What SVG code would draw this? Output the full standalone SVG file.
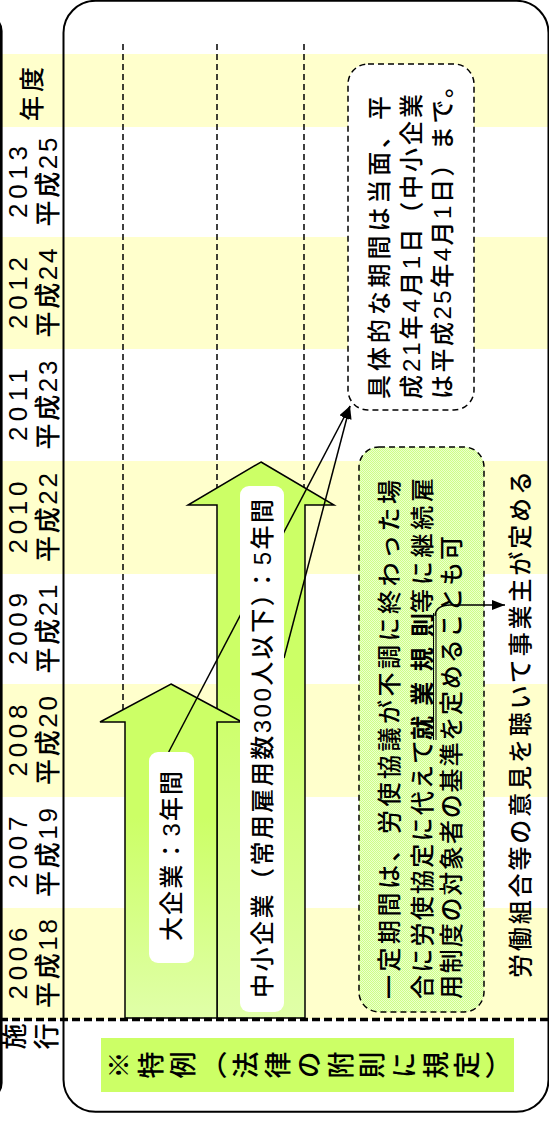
<svg xmlns="http://www.w3.org/2000/svg" width="549" height="1124" viewBox="0 0 549 1124">
<defs>
<linearGradient id="gArrow" x1="0" y1="0" x2="0" y2="1">
<stop offset="0" stop-color="#CCFF66"/>
<stop offset="0.4" stop-color="#CCFF66"/>
<stop offset="1" stop-color="#E0FFA8"/>
</linearGradient>
<pattern id="chk" width="2" height="2" patternUnits="userSpaceOnUse">
<rect width="2" height="2" fill="#EEFFCC"/>
<rect width="1" height="1" fill="#CCFF88"/>
<rect x="1" y="1" width="1" height="1" fill="#CCFF88"/>
</pattern>
<marker id="ah" markerWidth="13" markerHeight="10" refX="13" refY="5" orient="auto" markerUnits="userSpaceOnUse">
<path d="M0,0 L13,5 L0,10 z" fill="#000"/>
</marker>
<style>
text { font-family: "Liberation Sans", "Noto Sans CJK JP", sans-serif; fill: #000; font-weight: 500; }
.yr { font-size: 26px; text-anchor: middle; }
.lbl { font-size: 24px; text-anchor: middle; }
.cl { font-size: 24px; }
.band { fill: #FFFFCC; }
.vdash { stroke: #000; stroke-width: 1.5; stroke-dasharray: 6 4; fill: none; }
.box { stroke: #000; stroke-width: 1.5; stroke-dasharray: 6 4; }
.arrow { fill: url(#gArrow); stroke: #000; stroke-width: 1.5; }
.conn { stroke: #000; stroke-width: 1.5; fill: none; marker-end: url(#ah); }
.lblbox { fill: #fff; }
</style>
</defs>

<g id="bands">
<rect class="band" x="0" y="54" width="549" height="73"/>
<rect class="band" x="0" y="237" width="549" height="112"/>
<rect class="band" x="0" y="461" width="549" height="113"/>
<rect class="band" x="0" y="684" width="549" height="113"/>
<rect class="band" x="0" y="908" width="549" height="111"/>
</g>

<g id="frame">
<rect x="-200" y="16" width="201.3" height="1082" rx="15" fill="none" stroke="#000" stroke-width="2.6"/>
<rect x="63.5" y="0.8" width="485" height="1111" rx="32" fill="none" stroke="#000" stroke-width="2"/>
<line class="vdash" x1="123" y1="44" x2="123" y2="712"/>
<line class="vdash" x1="217" y1="44" x2="217" y2="492"/>
<line class="vdash" x1="304" y1="44" x2="304" y2="492"/>
</g>

<g id="callout-period">
<rect class="box" x="348" y="64" width="126" height="346" rx="20" fill="#fff"/>
<g transform="matrix(0,-1,1,0,0,1124)">
<text class="cl" x="725" y="388" textLength="303" lengthAdjust="spacing">具体的な期間は当面、平</text>
<text class="cl" x="725" y="420" textLength="305" lengthAdjust="spacing">成21年4月1日（中小企業</text>
<text class="cl" x="725" y="450.5" textLength="325" lengthAdjust="spacing">は平成25年4月1日）まで。</text>
</g>
</g>

<g id="callout-rule">
<rect class="box" x="359" y="447" width="125" height="565" rx="20" fill="url(#chk)"/>
<g transform="matrix(0,-1,1,0,0,1124)">
<text class="cl" x="125" y="398" textLength="519" lengthAdjust="spacing">一定期間は、労使協議が不調に終わった場</text>
<text class="cl" x="125" y="430.5"><tspan textLength="259" lengthAdjust="spacing">合に労使協定に代えて</tspan><tspan x="384" font-weight="bold" textLength="127" lengthAdjust="spacing">就業規則</tspan><tspan x="511" textLength="135" lengthAdjust="spacing">等に継続雇</tspan></text>
<text class="cl" x="125" y="460" textLength="463" lengthAdjust="spacing">用制度の対象者の基準を定めることも可</text>
</g>
<path d="M433.5,613 V740 M436,613 V740" stroke="#000" stroke-width="1" fill="none"/>
</g>

<g id="arrow-large">
<polygon class="arrow" points="261,462 334,505 305,505 305,1018 217,1018 217,505 188,505"/>
</g>

<g id="arrow-small">
<polygon class="arrow" points="171,684 242,722 217,722 217,1018 125,1018 125,722 100,722"/>
</g>

<g id="connectors">
<line class="conn" x1="168.7" y1="752" x2="350" y2="406"/>
<line class="conn" x1="284" y1="658" x2="350" y2="406"/>
<path class="conn" d="M435,616 Q436,605 450,605 L505,605"/>
</g>

<g id="label-small">
<rect class="lblbox" x="149" y="752" width="45" height="211" rx="9"/>
<g transform="matrix(0,-1,1,0,0,1124)">
<text class="lbl" x="268" y="179.7" textLength="170" lengthAdjust="spacing">大企業：3年間</text>
</g>
</g>

<g id="label-large">
<rect class="lblbox" x="240" y="486" width="44" height="526" rx="9"/>
<g transform="matrix(0,-1,1,0,0,1124)">
<text class="lbl" x="375.5" y="270.8" textLength="499" lengthAdjust="spacing">中小企業（常用雇用数300人以下）：5年間</text>
</g>
</g>

<g id="employer-note">
<g transform="matrix(0,-1,1,0,0,1124)">
<text class="cl" x="146" y="529" textLength="507" lengthAdjust="spacing">労働組合等の意見を聴いて事業主が定める</text>
</g>
</g>

<g id="year-header">
<g transform="matrix(0,-1,1,0,0,1124)">
<text class="yr" x="1030" y="41" style="font-size:25px" textLength="54" lengthAdjust="spacing">年度</text>
</g>
</g>

<g id="years" transform="matrix(0,-1,1,0,0,1124)">
<g id="year-2013"><text class="yr" x="942" y="26.8" textLength="72" lengthAdjust="spacing">2013</text><text class="yr" x="942" y="57" textLength="89" lengthAdjust="spacing">平成25</text></g>
<g id="year-2012"><text class="yr" x="831" y="26.8" textLength="72" lengthAdjust="spacing">2012</text><text class="yr" x="831" y="57" textLength="89" lengthAdjust="spacing">平成24</text></g>
<g id="year-2011"><text class="yr" x="719" y="26.8" textLength="72" lengthAdjust="spacing">2011</text><text class="yr" x="719" y="57" textLength="89" lengthAdjust="spacing">平成23</text></g>
<g id="year-2010"><text class="yr" x="606.5" y="26.8" textLength="72" lengthAdjust="spacing">2010</text><text class="yr" x="606.5" y="57" textLength="89" lengthAdjust="spacing">平成22</text></g>
<g id="year-2009"><text class="yr" x="495" y="26.8" textLength="72" lengthAdjust="spacing">2009</text><text class="yr" x="495" y="57" textLength="89" lengthAdjust="spacing">平成21</text></g>
<g id="year-2008"><text class="yr" x="383.5" y="26.8" textLength="72" lengthAdjust="spacing">2008</text><text class="yr" x="383.5" y="57" textLength="89" lengthAdjust="spacing">平成20</text></g>
<g id="year-2007"><text class="yr" x="271.5" y="26.8" textLength="72" lengthAdjust="spacing">2007</text><text class="yr" x="271.5" y="57" textLength="89" lengthAdjust="spacing">平成19</text></g>
<g id="year-2006"><text class="yr" x="160.5" y="26.8" textLength="72" lengthAdjust="spacing">2006</text><text class="yr" x="160.5" y="57" textLength="89" lengthAdjust="spacing">平成18</text></g>
<g id="enforcement"><text class="yr" x="87.5" y="23.9">施<tspan x="87.5" y="56.4">行</tspan></text></g>
</g>

<g id="special-case">
<rect x="101" y="1038" width="413" height="54" fill="#CCFF66"/>
<g transform="matrix(0,-1,1,0,0,1124)">
<text x="59" y="105.5" style="writing-mode: vertical-rl; font-family: 'Noto Sans CJK JP', sans-serif; font-size: 27px; letter-spacing: 4.65px;">※特例（法律の附則に規定）</text>
</g>
</g>

<g id="start-line">
<line x1="0" y1="1019.5" x2="549" y2="1019.5" stroke="#000" stroke-width="3.5" stroke-dasharray="8 4"/>
</g>
</svg>
